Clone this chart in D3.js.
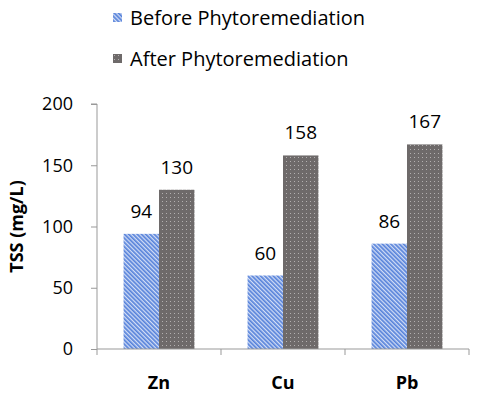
<!DOCTYPE html>
<html>
<head>
<meta charset="utf-8">
<script src="https://cdn.jsdelivr.net/npm/d3@7"></script>
<style>
  body { margin: 0; background: #fff; }
  text { font-family: "Open Sans", "Noto Sans", sans-serif; fill: #000; }
</style>
</head>
<body>
<script>
// chart data
const categories = ["Zn", "Cu", "Pb"];
const seriesNames = ["Before Phytoremediation", "After Phytoremediation"];
const beforeValues = [94, 60, 86];
const afterValues = [130, 158, 167];
const yTicks = [0, 50, 100, 150, 200];

const width = 480, height = 396;
const margin = {top: 104, right: 11, bottom: 47, left: 97};

const svg = d3.select("body").append("svg")
  .attr("width", width)
  .attr("height", height);

// fill patterns for the two series
const defs = svg.append("defs");
let stripes = defs.append("pattern")
  .attr("id", "before")
  .attr("patternUnits", "userSpaceOnUse")
  .attr("width", 3).attr("height", 3)
  .attr("patternTransform", "rotate(-45)");
stripes.append("rect").attr("width", 3).attr("height", 3).attr("fill", "#d3def6");
stripes.append("rect").attr("width", 1.7).attr("height", 3).attr("fill", "#5682da");

let dots = defs.append("pattern")
  .attr("id", "after")
  .attr("patternUnits", "userSpaceOnUse")
  .attr("width", 4).attr("height", 4);
dots.append("rect").attr("width", 4).attr("height", 4).attr("fill", "#6e6a6a");
dots.append("rect").attr("x", 1).attr("y", 1).attr("width", 1).attr("height", 1).attr("fill", "#b3b0b0");

const x = d3.scaleBand()
  .domain(categories)
  .range([margin.left, width - margin.right])
  .paddingInner(0)
  .paddingOuter(0);

const inner = d3.scaleBand()
  .domain([0, 1])
  .range([0, x.bandwidth()])
  .paddingOuter(0.75)
  .paddingInner(0);

const y = d3.scaleLinear()
  .domain([0, 200])
  .range([height - margin.bottom, margin.top]);

// y axis
let yAxis = svg.append("g")
  .attr("transform", `translate(${margin.left},0)`)
  .call(d3.axisLeft(y).tickValues(yTicks).tickSize(6).tickPadding(18));
yAxis.select(".domain").attr("stroke", "#999").attr("d", `M-6,${y(200)}H0V${y(0)}`);
yAxis.selectAll(".tick line").attr("stroke", "#999");
yAxis.selectAll(".tick text").style("font-size", "18px");

// bars
const rows = categories.map((c, i) => ({cat: c, vals: [beforeValues[i], afterValues[i]]}));
let groups = svg.selectAll(".group")
  .data(rows)
  .join("g")
  .attr("class", "group")
  .attr("transform", d => `translate(${x(d.cat)},0)`);

groups.selectAll("rect")
  .data(d => d.vals.map((v, k) => ({k: k, v: v})))
  .join("rect")
  .attr("x", d => inner(d.k))
  .attr("width", inner.bandwidth())
  .attr("y", d => y(d.v))
  .attr("height", d => y(0) - y(d.v))
  .attr("fill", d => d.k === 0 ? "url(#before)" : "url(#after)");

groups.selectAll("text")
  .data(d => d.vals.map((v, k) => ({k: k, v: v})))
  .join("text")
  .attr("x", d => inner(d.k) + inner.bandwidth() / 2)
  .attr("y", d => y(d.v) - 16)
  .attr("text-anchor", "middle")
  .style("font-size", "19px")
  .text(d => d.v);

// x axis
let xAxis = svg.append("g")
  .attr("transform", `translate(0,${y(0)})`);
xAxis.append("line")
  .attr("x1", margin.left).attr("x2", width - margin.right)
  .attr("stroke", "#999");
xAxis.selectAll(".tk")
  .data(categories)
  .join("line")
  .attr("class", "tk")
  .attr("x1", d => x(d) + x.bandwidth()).attr("x2", d => x(d) + x.bandwidth())
  .attr("y1", 0).attr("y2", 6)
  .attr("stroke", "#999");
xAxis.append("line")
  .attr("x1", margin.left).attr("x2", margin.left)
  .attr("y1", 0).attr("y2", 6)
  .attr("stroke", "#999");
xAxis.selectAll(".lbl")
  .data(categories)
  .join("text")
  .attr("class", "lbl")
  .attr("x", d => x(d) + x.bandwidth() / 2)
  .attr("y", 40)
  .attr("text-anchor", "middle")
  .style("font-size", "18px")
  .style("font-weight", "bold")
  .text(d => d);

// y axis title
svg.append("text")
  .attr("transform", `translate(23,${(y(0) + y(200)) / 2}) rotate(-90)`)
  .attr("text-anchor", "middle")
  .style("font-size", "18px")
  .style("font-weight", "bold")
  .text("TSS (mg/L)");

// legend
let legend = svg.selectAll(".legend")
  .data(seriesNames)
  .join("g")
  .attr("class", "legend")
  .attr("transform", (d, i) => `translate(113,${13 + i * 41})`);
legend.append("rect")
  .attr("width", 9).attr("height", 9)
  .attr("fill", (d, i) => i === 0 ? "url(#before)" : "url(#after)");
legend.append("text")
  .attr("x", 17).attr("y", 12)
  .style("font-size", "20px")
  .text(d => d);
</script>
</body>
</html>
